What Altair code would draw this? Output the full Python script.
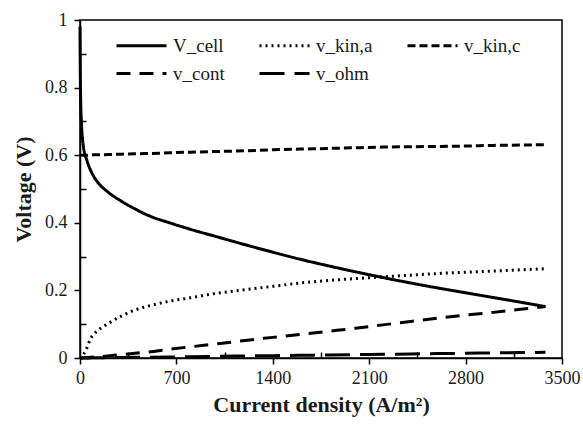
import altair as alt
import pandas as pd

current = [0, 2, 5, 10, 25, 50, 75, 100, 150, 200, 300, 400, 500, 650, 800, 1000, 1200,
           1400, 1600, 1800, 2000, 2200, 2400, 2600, 2800, 3000, 3200, 3380]
v_cell = [0.98, 0.85, 0.76, 0.70, 0.625, 0.585, 0.557, 0.537, 0.51, 0.492, 0.464, 0.441,
          0.421, 0.40, 0.381, 0.358, 0.335, 0.313, 0.292, 0.273, 0.255, 0.238, 0.222,
          0.207, 0.193, 0.179, 0.165, 0.152]
v_kin_a = [0.0, 0.0, 0.0, 0.0, 0.01, 0.03, 0.056, 0.07, 0.088, 0.101, 0.124, 0.142, 0.154,
           0.168, 0.178, 0.192, 0.202, 0.212, 0.222, 0.229, 0.235, 0.240, 0.245, 0.250,
           0.254, 0.257, 0.261, 0.264]
v_kin_c = [0.600, 0.600, 0.600, 0.600, 0.600, 0.600, 0.601, 0.601, 0.601, 0.602, 0.603,
           0.604, 0.605, 0.607, 0.609, 0.611, 0.613, 0.616, 0.618, 0.620, 0.622, 0.624,
           0.625, 0.626, 0.627, 0.629, 0.630, 0.631]
v_cont = [0.0, 0.0, 0.0, 0.0, 0.001, 0.001, 0.002, 0.003, 0.004, 0.006, 0.01, 0.014, 0.018,
          0.026, 0.033, 0.042, 0.052, 0.061, 0.070, 0.079, 0.088, 0.098, 0.108, 0.118,
          0.127, 0.135, 0.144, 0.152]
v_ohm = [0.0, 0.0, 0.0, 0.0, 0.0, 0.0, 0.0003, 0.0005, 0.0008, 0.001, 0.0015, 0.002,
         0.0025, 0.003, 0.004, 0.005, 0.006, 0.007, 0.008, 0.009, 0.010, 0.011, 0.012,
         0.013, 0.014, 0.015, 0.016, 0.017]

series_names = ["V_cell", "v_kin,a", "v_kin,c", "v_cont", "v_ohm"]
series_values = [v_cell, v_kin_a, v_kin_c, v_cont, v_ohm]
dashes = [[1, 0], [2, 4], [8, 4], [14, 9], [25, 10]]

x_major = [0, 700, 1400, 2100, 2800, 3500]
x_minor = [350, 1050, 1750, 2450, 3150]
y_major = [0, 0.2, 0.4, 0.6, 0.8, 1.0]
y_minor = [0.1, 0.3, 0.5, 0.7, 0.9]

rows = []
for name, vals in zip(series_names, series_values):
    for c, v in zip(current, vals):
        rows.append({"current": c, "voltage": v, "series": name})
df = pd.DataFrame(rows)

FONT = "Liberation Serif"
TXT = "#1a1a1a"
xscale = alt.Scale(domain=[0, 3500], nice=False)
yscale = alt.Scale(domain=[0, 1], nice=False)

main = alt.Chart(df).mark_line(color="black", strokeWidth=3, interpolate="monotone").encode(
    x=alt.X("current:Q", scale=xscale,
            axis=alt.Axis(orient="bottom", values=x_major, format="d",
                          title="Current density (A/m²)", tickSize=6, labelFlush=False,
                          labelFont=FONT, labelFontSize=18, labelColor=TXT,
                          labelPadding=5, titlePadding=7, grid=False)),
    y=alt.Y("voltage:Q", scale=yscale,
            axis=alt.Axis(orient="left", values=y_major, format="~g",
                          title="Voltage (V)", tickSize=6, labelPadding=7, labelFlush=False,
                          labelFont=FONT, labelFontSize=18, labelColor=TXT,
                          titlePadding=9, grid=False)),
    strokeDash=alt.StrokeDash(
        "series:N",
        scale=alt.Scale(domain=series_names, range=dashes),
        legend=alt.Legend(
            title=None, orient="none", legendX=27, legendY=16, columns=3,
            direction="horizontal",
            symbolType="M0,0H10", symbolSize=100, symbolStrokeWidth=3,
            symbolStrokeColor="black", labelFont=FONT, labelFontSize=19,
            labelColor=TXT, labelOffset=47, columnPadding=25, rowPadding=8,
            padding=0, labelLimit=200)),
    detail="series:N",
)

minor = alt.Chart(df).mark_line(opacity=0).encode(
    x=alt.X("current:Q", scale=xscale,
            axis=alt.Axis(orient="top", values=x_minor, labels=False, domain=False,
                          title=None, tickSize=6, offset=-338, grid=False)),
    y=alt.Y("voltage:Q", scale=yscale,
            axis=alt.Axis(orient="right", values=y_minor, labels=False, domain=False,
                          title=None, tickSize=6, offset=-482, grid=False)),
    detail="series:N",
)

chart = alt.layer(main, minor).resolve_axis(x="independent", y="independent").properties(
    width=482, height=338,
    autosize=alt.AutoSizeParams(type="none"),
    padding={"left": 80, "top": 20, "right": 21, "bottom": 66},
    background="white",
).configure(font=FONT).configure_view(stroke="black", strokeWidth=1.5).configure_axis(
    domainColor="black", domainWidth=1.5, tickColor="black", tickWidth=1.5,
    labelFont=FONT, labelFontSize=18, labelColor=TXT,
    titleFont=FONT, titleFontSize=22, titleFontWeight="bold", titleColor=TXT,
)

chart.save("out.html", embed_options={"renderer": "svg", "actions": False})
